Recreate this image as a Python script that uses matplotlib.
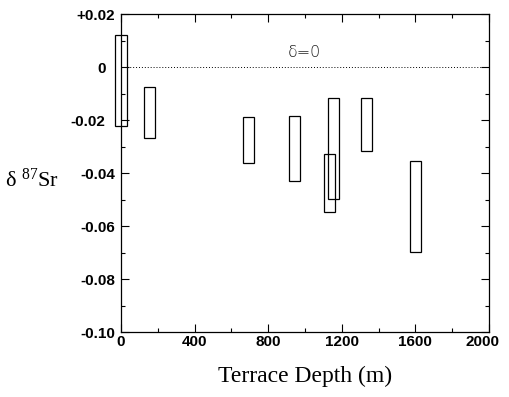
import matplotlib
matplotlib.use("Agg")
import matplotlib.pyplot as plt
import matplotlib.transforms as mtransforms
from matplotlib.ticker import MultipleLocator, FixedLocator

# Data: terrace depth (m) and delta 87Sr ranges
depth = [0, 155, 693, 943, 1153, 1134, 1332, 1598]
delta_top = [0.012, -0.0074, -0.0188, -0.0185, -0.0116, -0.0328, -0.0116, -0.0356]
delta_bottom = [-0.0221, -0.0268, -0.0361, -0.0431, -0.0497, -0.0547, -0.0316, -0.0698]

yticks = [0.02, 0.0, -0.02, -0.04, -0.06, -0.08, -0.10]
ytick_labels = ["+0.02", "0", "-0.02", "-0.04", "-0.06", "-0.08", "-0.10"]
xticks = [0, 400, 800, 1200, 1600, 2000]
xtick_labels = ["0", "400", "800", "1200", "1600", "2000"]

plt.rcParams["mathtext.fontset"] = "custom"
plt.rcParams["mathtext.rm"] = "Liberation Serif"
plt.rcParams["mathtext.it"] = "Liberation Serif:italic"

fig = plt.figure(figsize=(5.09, 3.97), dpi=100)
ax = fig.add_axes([0.2377, 0.1637, 0.723, 0.801])

heights = [t - b for t, b in zip(delta_top, delta_bottom)]
bars = ax.bar(depth, heights, width=60, bottom=delta_bottom, fill=False,
              edgecolor="black", linewidth=0.9, align="center")
for b in bars:
    b.set_clip_on(False)

ax.axhline(0, color="black", linestyle=(0, (1, 2)), linewidth=0.7)
ax.text(997, 0.0053, "δ=0", ha="center", va="center", fontsize=11.5,
        family="DejaVu Sans", fontweight="light", color="#222222")

ax.set_xlim(0, 2000)
ax.set_ylim(-0.10, 0.02)
ax.xaxis.set_major_locator(FixedLocator(xticks))
ax.set_xticklabels(xtick_labels)
ax.xaxis.set_minor_locator(MultipleLocator(200))
ax.yaxis.set_major_locator(FixedLocator(yticks))
ax.set_yticklabels(ytick_labels)
ax.yaxis.set_minor_locator(MultipleLocator(0.01))

ax.tick_params(which="both", direction="in", top=True, right=True,
               width=0.8, color="black")
ax.tick_params(which="major", length=6)
ax.tick_params(which="minor", length=3)
ax.tick_params(axis="x", pad=2.5)
ax.tick_params(axis="y", pad=4)
for lab in ax.get_xticklabels() + ax.get_yticklabels():
    lab.set_family("Liberation Sans")
    lab.set_fontweight("bold")
    lab.set_fontsize(11)

# shift labels that sit next to the first box, and the last x label
shift_left = mtransforms.ScaledTranslation(-0.10, 0, fig.dpi_scale_trans)
for lab in ax.get_yticklabels():
    if lab.get_text() in ("0", "-0.02"):
        lab.set_transform(lab.get_transform() + shift_left)
shift_x = mtransforms.ScaledTranslation(-0.06, 0, fig.dpi_scale_trans)
for lab in ax.get_xticklabels():
    if lab.get_text() == "2000":
        lab.set_transform(lab.get_transform() + shift_x)

for s in ax.spines.values():
    s.set_linewidth(0.9)

ax.set_xlabel("Terrace Depth (m)", family="Liberation Serif", fontsize=17, labelpad=12)
fig.text(0.01, 0.545, r"δ $^{87}$Sr", family="Liberation Serif", fontsize=16,
         ha="left", va="center")

fig.savefig("out.png", dpi=100)
